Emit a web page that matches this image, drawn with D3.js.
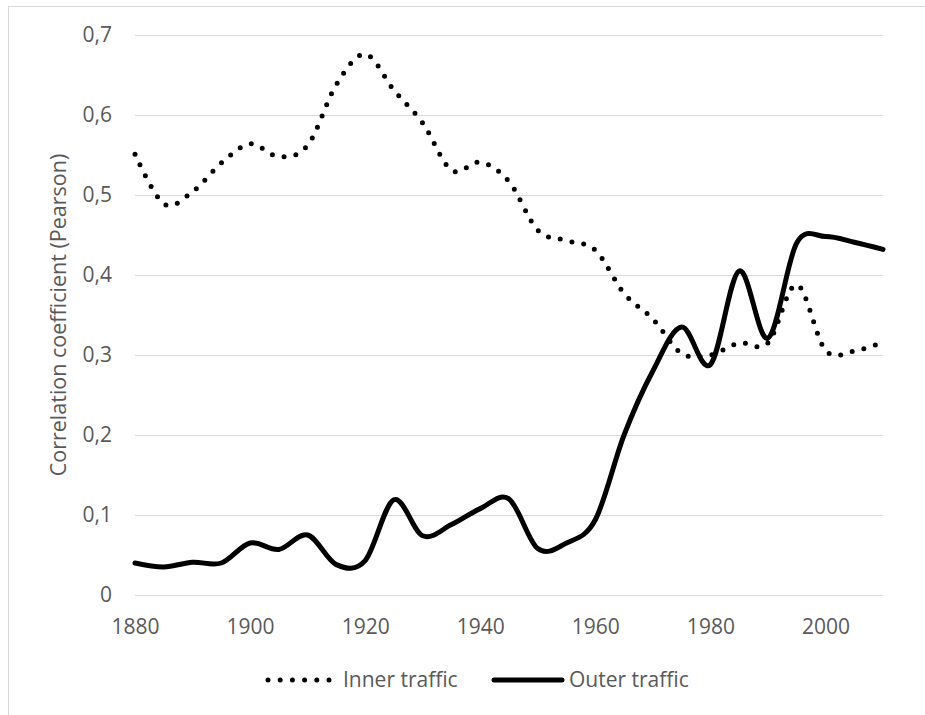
<!doctype html>
<html lang='en'>
<head>
    <meta charset='UTF-8'>
    <title>Correlation coefficient</title>
    <script src='https://cdn.jsdelivr.net/npm/d3@7/dist/d3.min.js'></script>
    <style>
        body { margin: 0; background: #fff; }
        text { font-family: 'Open Sans', sans-serif; fill: #595959; }
    </style>
</head>
<body>
    <div id='chart'></div>
    <script>
        // data, one point every 5 years
        const years = [1880, 1885, 1890, 1895, 1900, 1905, 1910, 1915, 1920, 1925, 1930, 1935, 1940,
            1945, 1950, 1955, 1960, 1965, 1970, 1975, 1980, 1985, 1990, 1995, 2000, 2005, 2010];
        const innerTraffic = [0.551, 0.489, 0.504, 0.540, 0.564, 0.548, 0.562, 0.638, 0.676, 0.631, 0.590, 0.531, 0.541,
            0.517, 0.456, 0.443, 0.431, 0.377, 0.345, 0.302, 0.300, 0.315, 0.315, 0.388, 0.306, 0.305, 0.316];
        const outerTraffic = [0.040, 0.035, 0.041, 0.040, 0.065, 0.057, 0.075, 0.038, 0.043, 0.119, 0.074, 0.088, 0.108,
            0.120, 0.058, 0.065, 0.094, 0.200, 0.280, 0.335, 0.288, 0.405, 0.321, 0.440, 0.448, 0.441, 0.432];
        const yTicks = [0, 0.1, 0.2, 0.3, 0.4, 0.5, 0.6, 0.7];
        const xTicks = [1880, 1900, 1920, 1940, 1960, 1980, 2000];
        const yTitle = 'Correlation coefficient (Pearson)';
        const seriesNames = ['Inner traffic', 'Outer traffic'];

        const W = 925, H = 715;
        const M = { left: 135, right: 42, top: 35, bottom: 120 };
        const FS = '21px';

        const svg = d3.select('#chart').append('svg').attr('width', W).attr('height', H);

        // chart frame (runs off the right / bottom edge like the original)
        svg.append('rect')
            .attr('x', 8.5).attr('y', 6.5).attr('width', 940).attr('height', 740)
            .attr('fill', 'none').attr('stroke', '#d9d9d9');

        const x = d3.scaleLinear().domain([1880, 2010]).range([M.left, W - M.right]);
        const y = d3.scaleLinear().domain([0, 0.7]).range([H - M.bottom, M.top]);

        // gridlines + y labels
        const yAxis = d3.axisLeft(y).tickValues(yTicks)
            .tickSize(-(W - M.left - M.right)).tickPadding(23)
            .tickFormat(d => d === 0 ? '0' : d3.format('.1f')(d).replace('.', ','));
        const gy = svg.append('g').attr('transform', 'translate(' + M.left + ',0)').call(yAxis);
        gy.select('.domain').remove();
        gy.selectAll('line').attr('stroke', '#d9d9d9').attr('stroke-width', 1);
        gy.selectAll('text').style('font-size', FS).attr('fill', '#595959');

        // x labels
        const xAxis = d3.axisBottom(x).tickValues(xTicks).tickSize(0).tickPadding(24).tickFormat(d3.format('d'));
        const gx = svg.append('g').attr('transform', 'translate(0,' + (H - M.bottom) + ')').call(xAxis);
        gx.select('.domain').remove();
        gx.selectAll('text').style('font-size', FS).attr('fill', '#595959');

        // y title
        svg.append('text')
            .attr('transform', 'translate(66,' + ((M.top + H - M.bottom) / 2) + ') rotate(-90)')
            .attr('text-anchor', 'middle')
            .style('font-size', '21.5px')
            .text(yTitle);

        const line = d3.line()
            .x((d, i) => x(years[i]))
            .y(d => y(d))
            .curve(d3.curveCatmullRom.alpha(0));

        svg.append('path')
            .attr('d', line(innerTraffic))
            .attr('fill', 'none').attr('stroke', '#000')
            .attr('stroke-width', 5).attr('stroke-linecap', 'round')
            .attr('stroke-dasharray', '0 12');

        svg.append('path')
            .attr('d', line(outerTraffic))
            .attr('fill', 'none').attr('stroke', '#000')
            .attr('stroke-width', 5).attr('stroke-linecap', 'round').attr('stroke-linejoin', 'round');

        // legend
        const ly = 680;
        const leg = svg.append('g');
        leg.append('line').attr('x1', 268).attr('x2', 330).attr('y1', ly).attr('y2', ly)
            .attr('stroke', '#000').attr('stroke-width', 5).attr('stroke-linecap', 'round')
            .attr('stroke-dasharray', '0 12.2');
        leg.append('text').attr('x', 343).attr('y', ly).attr('dy', '0.35em')
            .style('font-size', FS).text(seriesNames[0]);
        leg.append('line').attr('x1', 494).attr('x2', 562).attr('y1', ly).attr('y2', ly)
            .attr('stroke', '#000').attr('stroke-width', 5).attr('stroke-linecap', 'round');
        leg.append('text').attr('x', 569).attr('y', ly).attr('dy', '0.35em')
            .style('font-size', FS).text(seriesNames[1]);
    </script>
</body>
</html>
